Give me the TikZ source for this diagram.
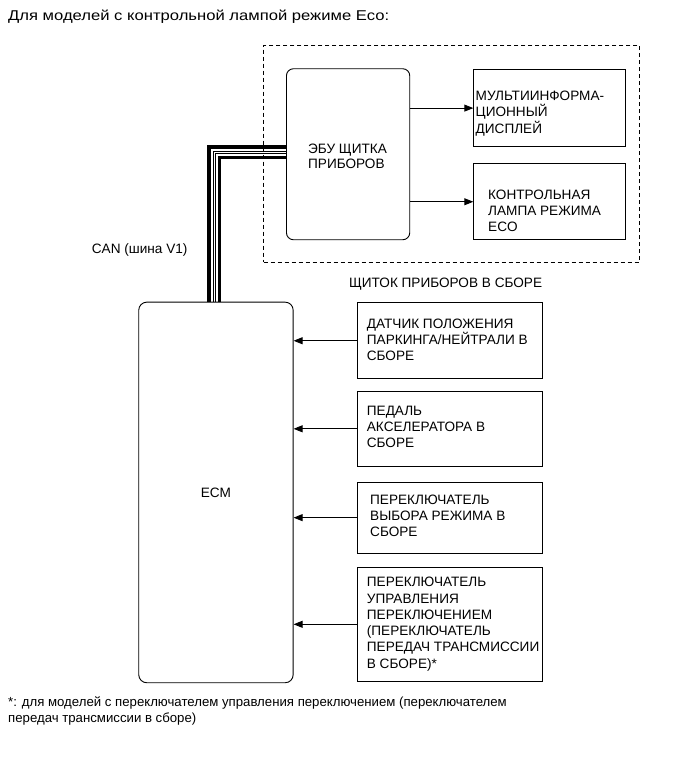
\documentclass[tikz,border=0pt]{standalone}
\usepackage{fontspec}
\setmainfont{Liberation Sans}
\newfontfamily\titlefont[FakeStretch=1.17]{Liberation Sans}
\usetikzlibrary{arrows.meta}
\newcommand{\mltext}[1]{\parbox[t]{300pt}{\raggedright #1}}
\begin{document}
\begin{tikzpicture}[x=1pt,y=-1pt,
  font=\fontsize{13.6}{16.3}\selectfont,
  box/.style={draw, line width=0.9pt, inner sep=0pt, anchor=north west},
  lbl/.style={anchor=base west, inner sep=0pt},
  arr/.style={line width=0.9pt, -{Triangle[length=9pt,width=7pt]}},
  wire/.style={line join=miter, line cap=butt}]
\useasboundingbox (0,0) rectangle (691,757);

% title
\node[lbl, font=\titlefont\fontsize{14.2}{17}\selectfont] (title) at (8,20.3) {Для моделей с контрольной лампой режиме Eco:};

% combination meter (dashed)
\node[box, line width=0.8pt, dash pattern=on 4pt off 3pt, minimum width=376pt, minimum height=216.7pt] (panel) at (263.3,45) {};
\node[lbl] (panellbl) at (349,287.3) {ЩИТОК ПРИБОРОВ В СБОРЕ};

\node[box, rounded corners=7pt, minimum width=123.3pt, minimum height=171pt] (ebu) at (286,68.3) {};
\node[lbl] (ebulbl) at (308,153.3) {\mltext{\fontsize{13.6}{15}\selectfont ЭБУ ЩИТКА\\ПРИБОРОВ}};

\node[box, minimum width=151.7pt, minimum height=76.7pt] (mfd) at (473.3,69.3) {};
\node[lbl] (mfdlbl) at (475.5,100.7) {\mltext{МУЛЬТИИНФОРМА-\\ЦИОННЫЙ\\ДИСПЛЕЙ}};

\node[box, minimum width=151.7pt, minimum height=76pt] (eco) at (473.3,163.3) {};
\node[lbl] (ecolbl) at (488,199.3) {\mltext{КОНТРОЛЬНАЯ\\ЛАМПА РЕЖИМА\\ECO}};

\draw[arr] (ebu.east |- mfd.west) -- (mfd.west);
\draw[arr] (ebu.east |- eco.west) -- (eco.west);

% ECM
\node[box, rounded corners=8pt, minimum width=154.4pt, minimum height=380.6pt] (ecm) at (138.3,301.7) {};
\node (ecmlbl) at (ecm.center) {ECM};

% CAN wires
\node[lbl] (canlbl) at (91.7,253.5) {CAN (шина V1)};
\foreach \d/\e/\w in {-6.5/6.8/4, -2/2.3/1, 0/0.3/1, 4/-3.7/3} {
  \draw[wire, line width=\w pt] ([xshift=\d pt]ecm.north) |- ([yshift=\e pt]ebu.west);
}

% sensors
\node[box, minimum width=185.6pt, minimum height=76pt] (s1) at (356.7,302.3) {};
\node[lbl] (s1lbl) at (366.7,328.3) {\mltext{ДАТЧИК ПОЛОЖЕНИЯ\\ПАРКИНГА/НЕЙТРАЛИ В\\СБОРЕ}};

\node[box, minimum width=185.6pt, minimum height=75.3pt] (s2) at (356.7,390.7) {};
\node[lbl] (s2lbl) at (366.7,415) {\mltext{ПЕДАЛЬ\\АКСЕЛЕРАТОРА В\\СБОРЕ}};

\node[box, minimum width=185.6pt, minimum height=71pt] (s3) at (356.7,481.7) {};
\node[lbl] (s3lbl) at (370,504) {\mltext{ПЕРЕКЛЮЧАТЕЛЬ\\ВЫБОРА РЕЖИМА В\\СБОРЕ}};

\node[box, minimum width=185.6pt, minimum height=114.3pt] (s4) at (356.7,566.7) {};
\node[lbl] (s4lbl) at (366.7,586.7) {\mltext{ПЕРЕКЛЮЧАТЕЛЬ\\УПРАВЛЕНИЯ\\ПЕРЕКЛЮЧЕНИЕМ\\(ПЕРЕКЛЮЧАТЕЛЬ\\ПЕРЕДАЧ ТРАНСМИССИИ\\В СБОРЕ)*}};

\draw[arr] (s1.west) -- (s1.west -| ecm.east);
\draw[arr] (s2.west) -- (s2.west -| ecm.east);
\draw[arr] (s3.west) -- (s3.west -| ecm.east);
\draw[arr] (s4.west) -- (s4.west -| ecm.east);

% footnote
\node[lbl, font=\fontsize{13.2}{16}\selectfont] (foot) at (8,706) {\parbox[t]{640pt}{\raggedright *: для моделей с переключателем управления переключением (переключателем\\передач трансмиссии в сборе)}};
\end{tikzpicture}
\end{document}
